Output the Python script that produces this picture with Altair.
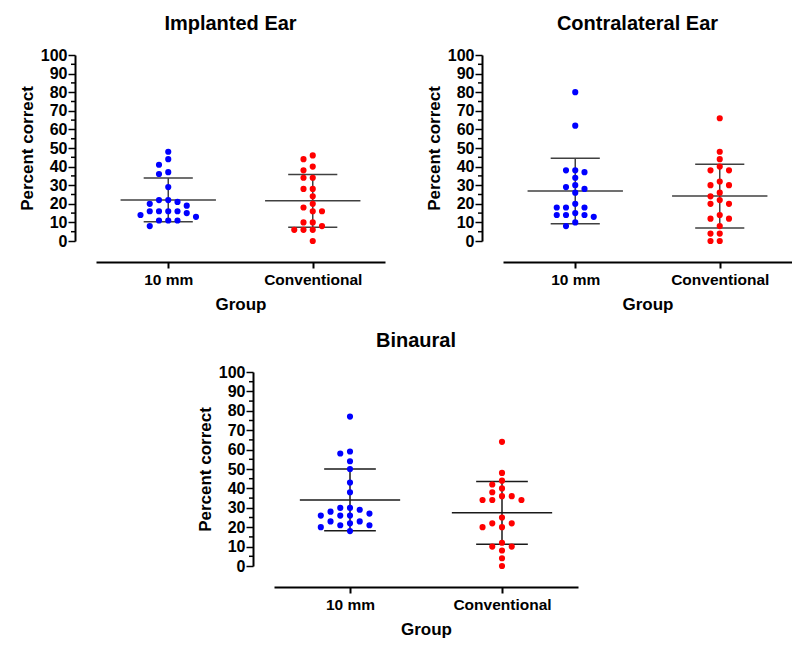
import altair as alt
import pandas as pd

# ---------------- data ----------------
groups = ["10 mm", "Conventional"]
group_pos = [0.5, 1.5]
colors = ["#0000FF", "#FF0000"]

implanted_10mm = [48, 44, 41, 37, 36, 29, 22, 22, 21, 20, 19, 16, 16, 16, 16, 15, 14, 13, 11, 11, 11, 8]
implanted_conv = [46, 44, 40, 38, 34, 34, 28, 28, 24, 20, 18, 16, 16, 10, 10, 8, 6, 6, 6, 0]
contra_10mm = [80, 62, 38, 38, 37, 34, 30, 29, 28, 26, 20, 18, 18, 18, 15, 14, 14, 14, 13, 10, 8]
contra_conv = [66, 48, 44, 40, 38, 38, 32, 30, 30, 26, 24, 22, 20, 20, 14, 12, 12, 8, 4, 4, 0, 0]
binaural_10mm = [77, 59, 58, 54, 50, 43, 38, 30, 30, 29, 28, 27, 26, 26, 26, 23, 23, 22, 21, 21, 20, 18]
binaural_conv = [64, 48, 44, 42, 40, 38, 36, 36, 34, 34, 34, 25, 22, 22, 20, 20, 12, 10, 10, 8, 4, 0]

y_major = list(range(0, 101, 10))
y_minor = list(range(5, 100, 10))

FONT = "Liberation Sans"
STEP = 0.064  # horizontal swarm step in x-scale units


def swarm_slots(values, min_gap=3.3):
    """Simple beeswarm: put each point in the nearest free column slot."""
    order = sorted(range(len(values)), key=lambda i: -values[i])
    cand = [0]
    for k in range(1, 12):
        cand += [-k, k]
    placed = []
    slots = [0] * len(values)
    for i in order:
        for k in cand:
            if all(not (s == k and abs(v - values[i]) < min_gap) for s, v in placed):
                slots[i] = k
                placed.append((k, values[i]))
                break
    return slots


def panel(title, a, b, w, h, line_color):
    rows = []
    for gi, (name, vals) in enumerate(zip(groups, [a, b])):
        for v, s in zip(vals, swarm_slots(vals)):
            rows.append({"group": name, "gpos": group_pos[gi], "value": v, "slot": s})
    df = pd.DataFrame(rows)
    minor_df = pd.DataFrame({"tick": y_minor})

    xscale = alt.Scale(domain=[0, 2], nice=False, zero=False)
    yscale = alt.Scale(domain=[0, 100], nice=False)
    label_expr = f"datum.value < 1 ? '{groups[0]}' : '{groups[1]}'"
    xaxis = alt.Axis(
        values=group_pos, labelExpr=label_expr, title="Group", offset=21, grid=False,
        domainColor="black", domainWidth=2, tickColor="black", tickWidth=2, tickSize=6,
        labelFont=FONT, labelFontSize=15.5, labelFontWeight="bold", labelColor="black",
        labelPadding=4, titleFont=FONT, titleFontSize=17, titleFontWeight="bold",
        titleColor="black", titlePadding=9,
    )
    yaxis = alt.Axis(
        values=y_major, title="Percent correct", offset=21, grid=False,
        domainColor="black", domainWidth=2, tickColor="black", tickWidth=1.5, tickSize=7,
        labelFont=FONT, labelFontSize=16, labelFontWeight="bold", labelColor="black",
        labelPadding=1, titleFont=FONT, titleFontSize=17, titleFontWeight="bold",
        titleColor="black", titlePadding=4,
    )

    base = alt.Chart(df)
    stats = base.transform_aggregate(
        mean="mean(value)", sd="stdev(value)", groupby=["group", "gpos"]
    ).transform_calculate(
        lo="datum.mean - datum.sd", hi="datum.mean + datum.sd",
        ml="datum.gpos - 0.33", mr="datum.gpos + 0.33",
        cl="datum.gpos - 0.17", cr="datum.gpos + 0.17",
    )
    mean_rule = stats.mark_rule(color=line_color, strokeWidth=1.5).encode(
        x=alt.X("ml:Q", scale=xscale, axis=xaxis), x2="mr:Q",
        y=alt.Y("mean:Q", scale=yscale, axis=yaxis))
    sd_rule = stats.mark_rule(color=line_color, strokeWidth=1.5).encode(
        x=alt.X("gpos:Q", scale=xscale, axis=xaxis),
        y=alt.Y("lo:Q", scale=yscale, axis=yaxis), y2="hi:Q")
    cap_hi = stats.mark_rule(color=line_color, strokeWidth=1.5).encode(
        x=alt.X("cl:Q", scale=xscale, axis=xaxis), x2="cr:Q",
        y=alt.Y("hi:Q", scale=yscale, axis=yaxis))
    cap_lo = stats.mark_rule(color=line_color, strokeWidth=1.5).encode(
        x=alt.X("cl:Q", scale=xscale, axis=xaxis), x2="cr:Q",
        y=alt.Y("lo:Q", scale=yscale, axis=yaxis))
    points = base.transform_calculate(
        xj=f"datum.gpos + datum.slot * {STEP}"
    ).mark_circle(size=38, opacity=1).encode(
        x=alt.X("xj:Q", scale=xscale, axis=xaxis),
        y=alt.Y("value:Q", scale=yscale, axis=yaxis),
        color=alt.Color("group:N", scale=alt.Scale(domain=groups, range=colors), legend=None),
    )
    minor = alt.Chart(minor_df).mark_rule(color="black", strokeWidth=1.5).encode(
        y=alt.Y("tick:Q", scale=yscale, axis=yaxis),
        x=alt.value(-21), x2=alt.value(-25),
    )
    return alt.layer(minor, mean_rule, sd_rule, cap_hi, cap_lo, points).properties(
        width=w, height=h,
        title=alt.TitleParams(title, font=FONT, fontSize=20, fontWeight="bold",
                              color="black", frame="group", dx=-10, offset=13),
    )


p1 = panel("Implanted Ear", implanted_10mm, implanted_conv, 289, 186, "#404040")
p2 = panel("Contralateral Ear", contra_10mm, contra_conv, 289, 186, "#404040")
p3 = panel("Binaural", binaural_10mm, binaural_conv, 304, 194, "#1a1a1a")

spacer = alt.Chart(pd.DataFrame({"s": [0]})).mark_point(opacity=0).encode(
    x=alt.value(0), y=alt.value(0)
).properties(width=80, height=10)

row1 = alt.hconcat(p1, p2, spacing=40)
row2 = alt.hconcat(spacer, p3, spacing=20)

chart = alt.vconcat(row1, row2, spacing=18).properties(
    padding={"left": 10, "top": 6, "right": 0, "bottom": 0}
).configure_view(stroke=None)

chart.save("out.html", embed_options={"renderer": "svg", "actions": False})
